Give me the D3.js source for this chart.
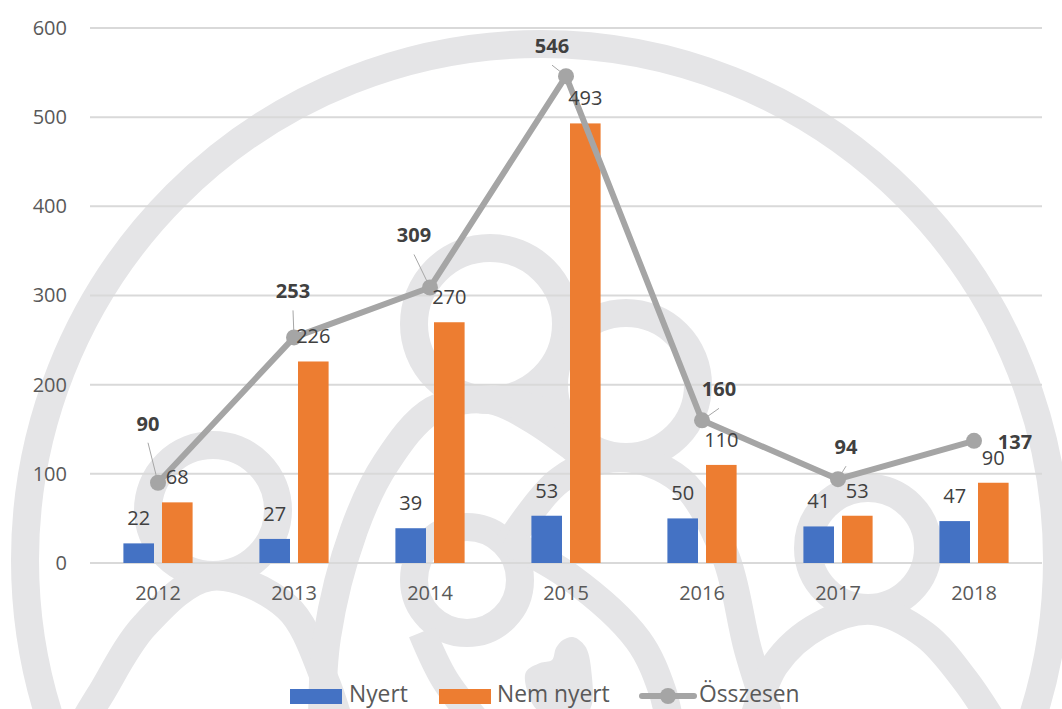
<!DOCTYPE html>
<html>
<head>
<meta charset="utf-8">
<style>
html, body { margin: 0; padding: 0; background: #fff; }
svg { display: block; font-family: "Open Sans", sans-serif; }
</style>
<script src="https://cdn.jsdelivr.net/npm/d3@7/dist/d3.min.js"></script>
</head>
<body>
<svg id="chart" width="1062" height="709"></svg>
<script>
// Chart data
const years = ["2012", "2013", "2014", "2015", "2016", "2017", "2018"];
const nyert = [22, 27, 39, 53, 50, 41, 47];
const nemNyert = [68, 226, 270, 493, 110, 53, 90];
const osszesen = [90, 253, 309, 546, 160, 94, 137];
const yTicks = [0, 100, 200, 300, 400, 500, 600];

// Hand-placed total labels, relative to their marker
const totalLabelOffsets = [[-10, -59], [-1, -46], [-16, -52], [-14, -30], [17, -31], [8, -32], [41, 1]];
const hasLeader = [true, true, true, true, true, true, false];

// Watermark ornament: freehand ribbons behind the plot
const ribbonColor = "#e5e5e7";
const ribbonWidth = 28;
const ribbons = [
  [[80, 728], [100, 695], [145, 625], [210, 577], [287, 607], [325, 680], [340, 725]],
  [[322, 725], [327, 637], [354, 530], [386, 463], [433, 410], [490, 400], [530, 418], [572, 447], [600, 470]],
  [[500, 400], [560, 415]],
  [[508, 545], [560, 480], [620, 458], [680, 480], [725, 555], [748, 650], [772, 725]],
  [[505, 540], [570, 577], [638, 640], [662, 690], [670, 725]],
  [[422, 632], [445, 680], [480, 725]],
  [[752, 725], [775, 665], [820, 625], [873, 611], [925, 635], [965, 680], [995, 725]]
];
const rings = [
  { cx: 541, cy: 560, r: 516 },
  { cx: 213, cy: 510, r: 65 },
  { cx: 490, cy: 324, r: 76 },
  { cx: 626, cy: 385, r: 72 },
  { cx: 467, cy: 580, r: 53 },
  { cx: 868, cy: 548, r: 60 }
];
const heart = [[540, 712], [527, 690], [526, 672], [540, 663], [552, 660], [556, 648], [563, 640], [573, 637], [585, 646], [591, 668], [588, 712]];

const svg = d3.select("#chart");
const margin = { left: 90, right: 1042, top: 28, bottom: 563 };

const x = d3.scaleBand().domain(years).range([margin.left, margin.right]);
const y = d3.scaleLinear().domain([0, 600]).range([margin.bottom, margin.top]);
const barWidth = 30.6;
const barGap = 8;
const labelSize = 20;

// Watermark
const wm = svg.append("g").attr("fill", "none").attr("stroke", ribbonColor).attr("stroke-width", ribbonWidth);
wm.selectAll("circle").data(rings).join("circle")
  .attr("cx", d => d.cx).attr("cy", d => d.cy).attr("r", d => d.r);
const ribbonPath = d3.line().curve(d3.curveCatmullRom.alpha(0.5));
wm.selectAll("path").data(ribbons).join("path").attr("d", ribbonPath);
svg.append("path").attr("d", d3.line().curve(d3.curveCatmullRomClosed)(heart)).attr("fill", ribbonColor);

// Gridlines and axes
svg.append("g").selectAll("line").data(yTicks).join("line")
  .attr("x1", margin.left).attr("x2", margin.right)
  .attr("y1", d => y(d)).attr("y2", d => y(d))
  .attr("stroke", "#d9d9d9").attr("stroke-width", 2);

const axisStyle = g => {
  g.select(".domain").remove();
  g.selectAll(".tick line").remove();
  g.selectAll(".tick text").attr("fill", "#595959").attr("font-size", labelSize).attr("font-family", "'Open Sans', sans-serif");
};
svg.append("g").attr("transform", `translate(${margin.left},0)`)
  .call(d3.axisLeft(y).tickValues(yTicks).tickSize(0).tickPadding(23)).call(axisStyle);
svg.append("g").attr("transform", `translate(0,${margin.bottom})`)
  .call(d3.axisBottom(x).tickSize(0).tickPadding(23)).call(axisStyle);

// Bars
const series = [
  { values: nyert, color: "#4472c4", dir: -1 },
  { values: nemNyert, color: "#ed7d31", dir: 1 }
];
const barX = (s, i) => x(years[i]) + x.bandwidth() / 2 + (s.dir < 0 ? -barGap / 2 - barWidth : barGap / 2);
series.forEach(s => {
  svg.append("g").selectAll("rect").data(s.values).join("rect")
    .attr("x", (d, i) => barX(s, i)).attr("width", barWidth)
    .attr("y", d => y(d)).attr("height", d => y(0) - y(d))
    .attr("fill", s.color);
});

// Total line, markers and leader lines
const cx = i => x(years[i]) + x.bandwidth() / 2;
svg.append("path")
  .attr("d", d3.line().x((d, i) => cx(i)).y(d => y(d))(osszesen))
  .attr("fill", "none").attr("stroke", "#a5a5a5").attr("stroke-width", 6).attr("stroke-linejoin", "round");
svg.append("g").selectAll("circle").data(osszesen).join("circle")
  .attr("cx", (d, i) => cx(i)).attr("cy", d => y(d)).attr("r", 8).attr("fill", "#a5a5a5");
svg.append("g").selectAll("line").data(osszesen).join("line")
  .filter((d, i) => hasLeader[i])
  .attr("x1", (d, i) => cx(i)).attr("y1", d => y(d))
  .attr("x2", (d, i) => cx(i) + totalLabelOffsets[i][0])
  .attr("y2", (d, i) => y(d) + totalLabelOffsets[i][1] + 19)
  .attr("stroke", "#a6a6a6").attr("stroke-width", 1);

// Value labels sit above everything else
series.forEach(s => {
  svg.append("g").selectAll("text").data(s.values).join("text")
    .attr("x", (d, i) => barX(s, i) + barWidth / 2).attr("y", d => y(d) - 25)
    .attr("dy", "0.35em").attr("text-anchor", "middle")
    .attr("fill", "#404040").attr("font-size", labelSize).text(d => d);
});
svg.append("g").selectAll("text").data(osszesen).join("text")
  .attr("x", (d, i) => cx(i) + totalLabelOffsets[i][0])
  .attr("y", (d, i) => y(d) + totalLabelOffsets[i][1])
  .attr("dy", "0.35em").attr("text-anchor", "middle")
  .attr("fill", "#404040").attr("font-size", labelSize).attr("font-weight", 700).text(d => d);

// Legend
const legend = svg.append("g").attr("fill", "#595959").attr("font-size", 22.8);
legend.append("rect").attr("x", 290).attr("y", 689).attr("width", 52).attr("height", 15).attr("fill", "#4472c4");
legend.append("text").attr("x", 349).attr("y", 702).text("Nyert");
legend.append("rect").attr("x", 439).attr("y", 689).attr("width", 52).attr("height", 15).attr("fill", "#ed7d31");
legend.append("text").attr("x", 497).attr("y", 702).text("Nem nyert");
legend.append("line").attr("x1", 642).attr("x2", 694).attr("y1", 696).attr("y2", 696)
  .attr("stroke", "#a5a5a5").attr("stroke-width", 6).attr("stroke-linecap", "round");
legend.append("circle").attr("cx", 668).attr("cy", 696).attr("r", 8).attr("fill", "#a5a5a5");
legend.append("text").attr("x", 699).attr("y", 702).text("Összesen");
</script>
</body>
</html>
